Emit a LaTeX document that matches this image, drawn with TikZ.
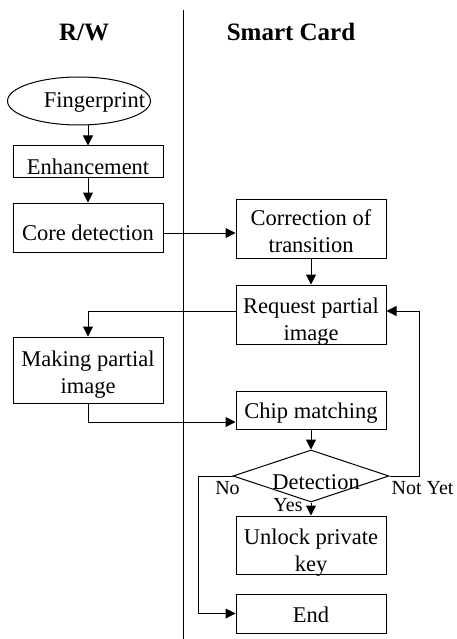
\documentclass[tikz,border=0pt]{standalone}
\usepackage{fontspec}
\setmainfont{Liberation Serif}
\usepackage{tikz}
\usetikzlibrary{shapes.geometric,arrows.meta,calc,positioning}

\begin{document}
\begin{tikzpicture}[x=1pt,y=-1pt,>={Triangle[length=10pt,width=10pt]},line width=1pt,
	txt/.style={font=\fontsize{22.5}{27}\selectfont,align=center},
	box/.style={draw,rectangle,minimum width=150pt,inner sep=0pt},
	tag/.style={font=\fontsize{20}{22}\selectfont,inner sep=0pt},
	head/.style={font=\fontsize{25}{28}\selectfont\bfseries}]

\useasboundingbox (0,0) rectangle (456,639);

\node[head] (rw) at (84,32) {R/W};
\node[head] (sc) at (291,32) {Smart Card};
\draw (183,10) -- (183,639);

% reader side
\node[draw,ellipse,minimum width=143pt,minimum height=48pt,inner sep=0pt,
	label={[txt,xshift=15.5pt,yshift=-1pt]center:Fingerprint}] (finger) at (79,101) {};
\node[box,minimum height=31pt,label={[txt,yshift=-5pt]center:Enhancement}] (enh) at (88,161.5) {};
\node[box,minimum height=49pt,label={[txt,yshift=-5.5pt]center:Core detection}] (core) at (88,227.5) {};
\node[box,minimum height=66pt,label={[txt,yshift=-5pt]center:Making partial\\image}] (making) at (88,370) {};

% card side
\node[box,minimum height=59pt,label={[txt,yshift=-2.5pt]center:Correction of\\transition}] (corr) at (311,228.5) {};
\node[box,minimum height=59pt,label={[txt,yshift=-7pt]center:Request partial\\image}] (req) at (311,314.5) {};
\node[box,minimum height=38pt,label={[txt,yshift=-3pt]center:Chip matching}] (chip) at (311,410) {};
\node[draw,diamond,minimum width=156pt,minimum height=52pt,inner sep=0pt,
	label={[txt,xshift=5pt,yshift=-6pt]center:Detection}] (det) at (311,476) {};
\node[box,minimum height=58pt,label={[txt,yshift=-8pt]center:Unlock private\\key}] (unlock) at (311,545) {};
\node[box,minimum height=39pt,label={[txt,yshift=-1pt]center:End}] (end) at (311,613.5) {};

\draw[->] (enh.north |- finger.south) -- (enh.north);
\draw[->] (enh) -- (core);
\draw[->] ([yshift=-5.5pt]core.east) -- ([yshift=-5.5pt]core.east -| corr.west);
\draw[->] (corr) -- (req);
\draw[->] ([yshift=3.5pt]req.west) -| (making.north);
\draw[->] (making.south) |- ([yshift=-12pt]chip.west);
\draw[->] (chip) -- (det);
\draw[->] (det.south) -- node[tag,pos=0.2,xshift=-23pt]{Yes} (unlock.north);
\draw[->] (det.west) node[tag,xshift=-5pt,yshift=-12pt]{No} -- ++(-34,0) |- (end.west);
\draw[->] (det.east) node[tag,xshift=33pt,yshift=-12pt]{Not Yet} -- ++(30,0) |- ([yshift=3.5pt]req.east);
\end{tikzpicture}
\end{document}
